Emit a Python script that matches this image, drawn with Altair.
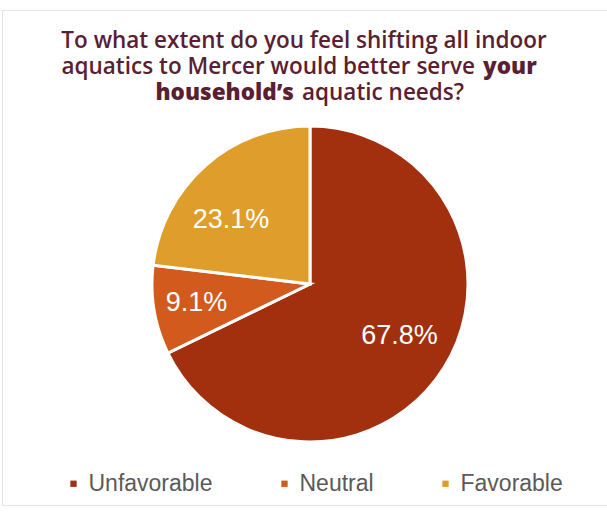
import altair as alt
import pandas as pd

# ---- data ----
categories = ["Unfavorable", "Neutral", "Favorable"]
shares = [67.8, 9.1, 23.1]
labels = ["67.8%", "9.1%", "23.1%"]
colors = ["#A2300F", "#D25A1C", "#DF9E2B"]

title_line1 = "To what extent do you feel shifting all indoor"
title_line2_plain = "aquatics to Mercer would better serve"
title_line2_bold = "your"
title_line3_bold = "household’s"
title_line3_plain = "aquatic needs?"

df = pd.DataFrame({
    "category": categories,
    "share": shares,
    "label": labels,
    "idx": list(range(len(categories))),
})

CX, CY, R = 310, 284, 158
TITLE_COLOR = "#5a1f32"
TITLE_FONT = "Open Sans"
TITLE_SIZE = 22.5
theta_scale = alt.Scale(domain=[0, 100])

one_row = alt.Data(values=[{"k": 1}])

card = alt.Chart(one_row).mark_rect(fill="white", stroke="#e4e4e4", strokeWidth=1).encode(
    x=alt.value(2.5), x2=alt.value(640), y=alt.value(10.5), y2=alt.value(505.5)
)

pie = alt.Chart(df).mark_arc(outerRadius=R, stroke="white", strokeWidth=3).encode(
    theta=alt.Theta("share:Q", stack=True, scale=theta_scale),
    order=alt.Order("idx:Q"),
    color=alt.Color(
        "category:N",
        scale=alt.Scale(domain=categories, range=colors),
        sort=categories,
        title=None,
        legend=alt.Legend(
            orient="none", legendX=62, legendY=472, direction="horizontal",
            symbolType="square", symbolSize=40, symbolStrokeWidth=0,
            labelFontSize=23, labelFont="Liberation Sans", labelColor="#5a5a5a",
            labelOffset=3.5, columnPadding=60, padding=0,
        ),
    ),
    x=alt.value(CX), y=alt.value(CY),
)


def label_layer(cat, radius, dx=0, dy=0):
    return (
        alt.Chart(df)
        .transform_window(cum="sum(share)", sort=[alt.SortField("idx")], frame=[None, 0])
        .transform_calculate(mid="datum.cum - datum.share / 2")
        .transform_filter(alt.datum.category == cat)
        .mark_text(radius=radius, dx=dx, dy=dy, fontSize=27, font="Liberation Sans",
                   color="white", align="center", baseline="middle")
        .encode(
            theta=alt.Theta("mid:Q", stack=False, scale=theta_scale),
            text="label:N",
            x=alt.value(CX), y=alt.value(CY),
        )
    )


lab_layers = [
    label_layer("Unfavorable", 102, 3, -2),
    label_layer("Neutral", 115, 0, 0),
    label_layer("Favorable", 104, -10, 14),
]


def title_text(txt, x, y, align, weight):
    return alt.Chart(one_row).mark_text(
        text=txt, font=TITLE_FONT, fontSize=TITLE_SIZE, fontWeight=weight, color=TITLE_COLOR,
        align=align, baseline="alphabetic",
    ).encode(x=alt.value(x), y=alt.value(y))


titles = [
    title_text(title_line1, 304, 48, "center", 600),
    title_text(title_line2_plain, 475, 74, "right", 600),
    title_text(title_line2_bold, 483, 74, "left", 800),
    title_text(title_line3_bold, 294, 100, "right", 800),
    title_text(title_line3_plain, 302, 100, "left", 600),
]

chart = alt.layer(card, pie, *lab_layers, *titles).properties(
    width=607, height=516, padding=0,
    autosize=alt.AutoSizeParams(type="none"),
    background="white",
).configure_view(strokeWidth=0)

chart.save("out.html", embed_options={"renderer": "svg", "actions": False})
